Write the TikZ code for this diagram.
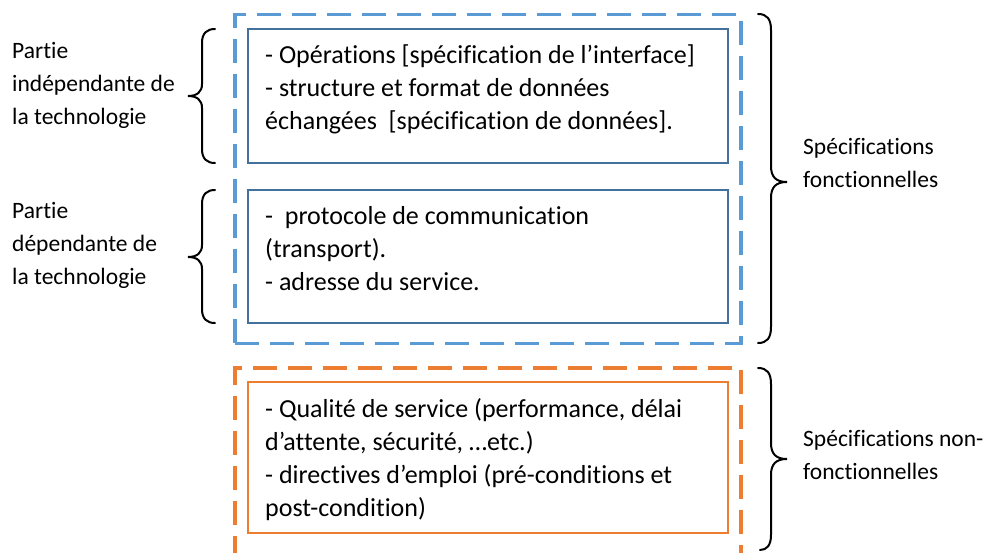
\documentclass[tikz,border=0pt]{standalone}
\usepackage{fontspec}
\setmainfont{Carlito}[Ligatures=CommonOff]
\definecolor{dashblue}{HTML}{5B9BD5}
\definecolor{boxblue}{HTML}{41719C}
\definecolor{orng}{HTML}{ED7D31}
\begin{document}
\begin{tikzpicture}[x=1pt,y=-1pt,
  txt/.style={anchor=base west,inner sep=0pt,align=left,font=\fontsize{23.5}{33}\selectfont},
  boxtxt/.style={txt,font=\fontsize{26}{33}\selectfont},
  dbox/.style={draw=#1,line width=3.2pt,dash pattern=on 24pt off 11pt,anchor=north west,inner sep=0pt,outer sep=0pt},
  sbox/.style={draw=#1,line width=2.7pt,anchor=north west,inner sep=0pt,outer sep=0pt},
  br/.style={draw=black,line width=2pt,line cap=round}]
\useasboundingbox (0,0) rectangle (991,552);
\begin{scope}
\clip (0,0) rectangle (991,552);
% functional part
\node[dbox=dashblue,minimum width=506pt,minimum height=329pt] (func) at (235,14.5) {};
\node[sbox=boxblue,minimum width=480pt,minimum height=134pt] (box1) at (248,29) {};
\node[sbox=boxblue,minimum width=480pt,minimum height=133pt] (box2) at (248,190) {};
% non-functional part
\node[dbox=orng,minimum width=506pt,minimum height=220pt] (nonfunc) at (235,368) {};
\node[sbox=orng,minimum width=480pt,minimum height=151pt] (box3) at (248,382) {};
\end{scope}

% (base anchor = baseline of the last line)
\node[boxtxt] (t1) at (265,129) {- Opérations [spécification de l’interface]\\- structure et format de données\\échangées~ [spécification de données].};
\node[boxtxt] (t2) at (265,290) {-~ protocole de communication\\(transport).\\- adresse du service.};
\node[boxtxt] (t3) at (265,516) {- Qualité de service (performance, délai\\d’attente, sécurité, …etc.)\\- directives d’emploi (pré-conditions et\\post-condition)};

\node[txt] (l1) at (12,124) {Partie\\indépendante de\\la technologie};
\node[txt] (l2) at (12,284) {Partie\\dépendante de\\la technologie};
\node[txt] (r1) at (803,187) {Spécifications\\fonctionnelles};
\node[txt] (r2) at (803,479) {Spécifications non-\\fonctionnelles};

% left braces
\draw[br] (215,29) .. controls (207,29) and (202,33) .. (202,43) -- (202,84) .. controls (202,92) and (197,96) .. (188,96) .. controls (197,96) and (202,100) .. (202,108) -- (202,149) .. controls (202,159) and (207,163) .. (215,163);
\draw[br] (215,190) .. controls (207,190) and (202,194) .. (202,204) -- (202,245) .. controls (202,253) and (197,257) .. (188,257) .. controls (197,257) and (202,261) .. (202,269) -- (202,309) .. controls (202,319) and (207,323) .. (215,323);
% right braces
\draw[br] (758,14) .. controls (767,14) and (771,19) .. (771,30) -- (771,166) .. controls (771,177) and (776,182) .. (787,182) .. controls (776,182) and (771,187) .. (771,198) -- (771,327) .. controls (771,338) and (767,343) .. (758,343);
\draw[br] (758,368) .. controls (767,368) and (771,373) .. (771,384) -- (771,443) .. controls (771,454) and (776,459) .. (787,459) .. controls (776,459) and (771,464) .. (771,475) -- (771,535) .. controls (771,545) and (767,550) .. (760,550);
\end{tikzpicture}
\end{document}
